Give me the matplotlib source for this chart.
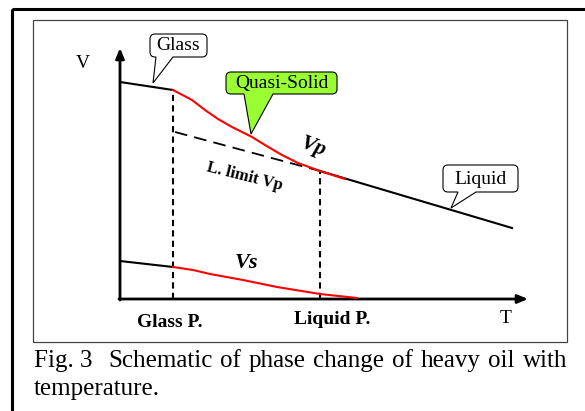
import matplotlib.pyplot as plt
from matplotlib.patches import Rectangle, PathPatch
from matplotlib.path import Path

plt.rcParams['font.family'] = ['Liberation Serif', 'DejaVu Serif']

# schematic data (T, V in plot units, origin at the axes corner)
glass_T = 53
liquid_T = 200

vp_glass_T = [0, 53]
vp_glass_V = [217, 209]
vp_quasi_T = [53, 72, 85, 98, 112, 132, 145, 162, 178, 200, 225]
vp_quasi_V = [209, 199, 189, 180, 172, 162, 154, 144, 136, 128, 120]
vp_liquid_T = [200, 392]
vp_liquid_V = [128, 71]
limit_T = [55, 200]
limit_V = [167, 128]

vs_glass_T = [0, 53]
vs_glass_V = [38, 32]
vs_quasi_T = [53, 73, 90, 123, 157, 200, 237]
vs_quasi_V = [32, 29, 25, 19, 12, 5, 1]

caption_line1 = ['Fig. 3', 'Schematic', 'of', 'phase', 'change', 'of', 'heavy', 'oil', 'with']
caption_line2 = 'temperature.'

W, H = 585, 411
fig = plt.figure(figsize=(W / 100, H / 100), dpi=100)

# decoration axes in pixel coords
deco = fig.add_axes([0, 0, 1, 1])
deco.set_xlim(0, W)
deco.set_ylim(H, 0)
deco.axis('off')

deco.add_patch(Rectangle((12, 9), 620, 440, fill=False, ec='black', lw=2.2))
deco.add_patch(Rectangle((33, 20), 534, 322, fill=False, ec='#444444', lw=0.9))

# plot axes: origin at pixel (120, 299), 1 unit = 1 px
x0, y0, x1, y1 = 120, 299, 528, 48
ax = fig.add_axes([x0 / W, (H - y0) / H, (x1 - x0) / W, (y0 - y1) / H])
ax.set_xlim(0, x1 - x0)
ax.set_ylim(0, y0 - y1)
ax.axis('off')

arrow = dict(arrowstyle='-|>,head_length=0.6,head_width=0.25', color='black', lw=2.0,
             shrinkA=0, shrinkB=0)
ax.annotate('', xy=(0, y0 - y1), xytext=(0, -1), arrowprops=arrow, annotation_clip=False)
ax.annotate('', xy=(x1 - x0, 0), xytext=(-1, 0), arrowprops=arrow, annotation_clip=False)

lw = 1.5
ax.plot(vp_glass_T, vp_glass_V, color='black', lw=lw, clip_on=False)
ax.plot(vp_liquid_T, vp_liquid_V, color='black', lw=lw, clip_on=False)
ax.plot(vp_quasi_T, vp_quasi_V, color='red', lw=lw, clip_on=False, zorder=3)
ax.plot(limit_T, limit_V, color='black', lw=1.3, ls=(0, (7, 4)), clip_on=False)
ax.plot(vs_glass_T, vs_glass_V, color='black', lw=lw, clip_on=False)
ax.plot(vs_quasi_T, vs_quasi_V, color='red', lw=lw, clip_on=False, zorder=3)

ax.plot([glass_T, glass_T], [0, vp_glass_V[-1]], color='black', lw=1.5, ls=(0, (3, 2)), clip_on=False)
ax.plot([liquid_T, liquid_T], [0, vp_liquid_V[0]], color='black', lw=1.5, ls=(0, (3, 2)), clip_on=False)

# labels
deco.text(83, 63, 'V', fontsize=14, ha='center', va='center')
deco.text(506, 318, 'T', fontsize=14, ha='center', va='center')
deco.text(170, 322, 'Glass P.', fontsize=14, fontweight='bold', ha='center', va='center')
deco.text(332, 319, 'Liquid P.', fontsize=14, fontweight='bold', ha='center', va='center')
deco.text(313, 147, 'Vp', fontsize=16, fontweight='bold', fontstyle='italic',
          rotation=-20, ha='center', va='center')
deco.text(245, 177, 'L. limit Vp', fontsize=12, fontweight='bold',
          rotation=-14, ha='center', va='center')
deco.text(246, 263, 'Vs', fontsize=16, fontweight='bold', fontstyle='italic',
          ha='center', va='center')


def callout(bx0, by0, bx1, by1, b0, b1, tip, fc='white', r=5):
    tx, ty = tip
    verts = [(bx0 + r, by0), (bx1 - r, by0), (bx1, by0), (bx1, by0 + r),
             (bx1, by1 - r), (bx1, by1), (bx1 - r, by1),
             (b1, by1), (tx, ty), (b0, by1),
             (bx0 + r, by1), (bx0, by1), (bx0, by1 - r),
             (bx0, by0 + r), (bx0, by0), (bx0 + r, by0), (bx0 + r, by0)]
    codes = [Path.MOVETO, Path.LINETO, Path.CURVE3, Path.CURVE3,
             Path.LINETO, Path.CURVE3, Path.CURVE3,
             Path.LINETO, Path.LINETO, Path.LINETO,
             Path.LINETO, Path.CURVE3, Path.CURVE3,
             Path.LINETO, Path.CURVE3, Path.CURVE3, Path.CLOSEPOLY]
    deco.add_patch(PathPatch(Path(verts, codes), fc=fc, ec='black', lw=0.8, zorder=4))


callout(150, 34, 207, 57, 156, 173, (153, 83))
deco.text(178.5, 46, 'Glass', fontsize=14, ha='center', va='center', zorder=5)
callout(226, 72, 337, 94, 244, 273, (251, 134), fc='#99ff33')
deco.text(281.5, 83.5, 'Quasi-Solid', fontsize=14, ha='center', va='center', zorder=5)
callout(443, 165, 518, 192, 458, 476, (451, 208))
deco.text(480.5, 179, 'Liquid', fontsize=14, ha='center', va='center', zorder=5)

# justified caption
renderer = fig.canvas.get_renderer()
cap_fs = 18
texts = [deco.text(0, 367, w, fontsize=cap_fs, ha='left', va='baseline') for w in caption_line1]
widths = [t.get_window_extent(renderer).width for t in texts]
left, right = 34, 567
weights = [2] + [1] * (len(texts) - 2)
gap = (right - left - sum(widths)) / sum(weights)
x = left
for i, t in enumerate(texts):
    t.set_x(x)
    x += widths[i] + (gap * weights[i] if i < len(weights) else 0)
deco.text(left, 395, caption_line2, fontsize=cap_fs, ha='left', va='baseline')

fig.savefig('out.png', dpi=100)
